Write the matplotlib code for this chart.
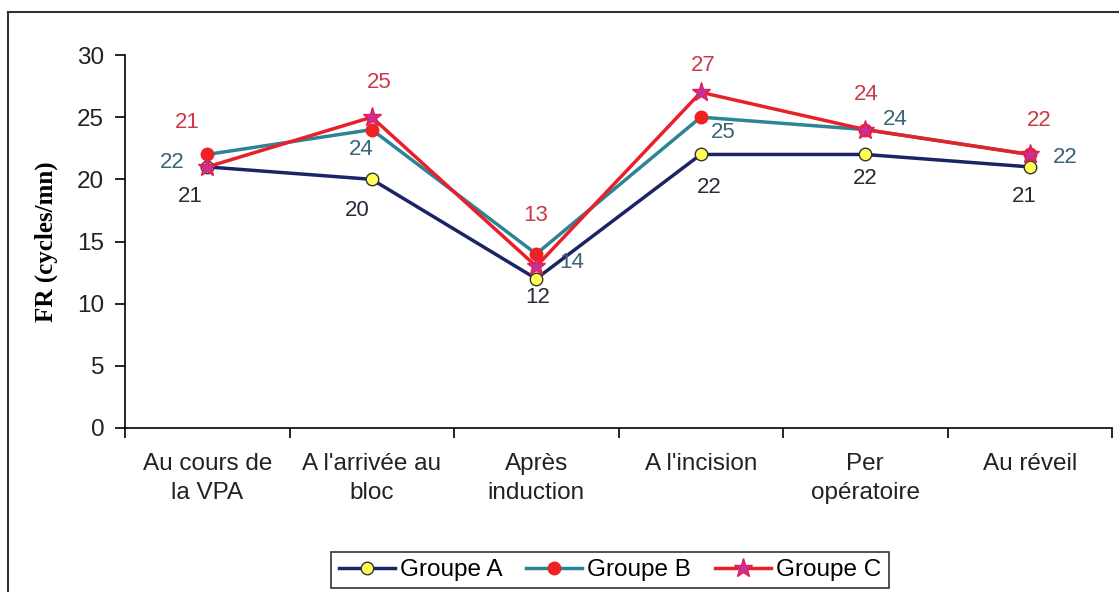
import matplotlib.pyplot as plt
from matplotlib.lines import Line2D

categories = ["Au cours de\nla VPA", "A l'arrivée au\nbloc", "Après\ninduction",
              "A l'incision", "Per\nopératoire", "Au réveil"]
groupe_a = [21, 20, 12, 22, 22, 21]
groupe_b = [22, 24, 14, 25, 24, 22]
groupe_c = [21, 25, 13, 27, 24, 22]

# label offsets in pixels (dx, dy), dy positive = up
off_a = [(-17, -30), (-14, -31), (1, -19), (8, -33), (0, -24), (-5, -30)]
off_b = [(-35, -8), (-10, -20), (35, -9), (23, -15), (30, 10), (35, -3)]
off_c = [(-20, 44), (8, 35), (-1, 51), (2, 27), (1, 35), (9, 34)]

plt.rcParams['font.family'] = ['Liberation Sans', 'DejaVu Sans']

fig = plt.figure(figsize=(11.19, 5.92), dpi=100)
ax = fig.add_axes([125 / 1119, 1 - 428 / 592, 987 / 1119, (428 - 55) / 592])

x = list(range(len(categories)))
series = [
    ("Groupe A", groupe_a, "#1c2466", "o", "#ffff55", "#333333", 9, off_a, "#2a2a3a"),
    ("Groupe B", groupe_b, "#2b8597", "o", "#ee2222", "#ee2222", 9, off_b, "#3a6478"),
    ("Groupe C", groupe_c, "#e8202a", "*", "#c8309a", "#e02050", 14, off_c, "#cc3a4a"),
]
for name, vals, lc, mk, mfc, mec, ms, offs, tc in series:
    ax.plot(x, vals, color=lc, lw=2.5, marker=mk, mfc=mfc, mec=mec, ms=ms,
            mew=1, label=name)
    for xi, v, (dx, dy) in zip(x, vals, offs):
        ax.annotate(str(v), (xi, v), xytext=(dx, dy), textcoords="offset pixels",
                    ha="center", va="center", fontsize=16, color=tc)

ax.set_xlim(-0.5, 5.5)
ax.set_ylim(0, 30)
ax.set_yticks(range(0, 31, 5))
ax.set_xticks([i + 0.5 for i in range(-1, 6)])
ax.set_xticklabels([])
ax.set_xticks(x, minor=True)
ax.set_xticklabels(categories, minor=True, fontsize=17.5, color="#222222",
                   linespacing=1.4)
ax.tick_params(axis="x", which="minor", length=0, pad=18)
ax.tick_params(axis="x", which="major", length=7, width=1.2, direction="out")
ax.tick_params(axis="y", length=7, width=1.2, labelsize=17.5, pad=8,
               labelcolor="#222222")
for s in ["top", "right"]:
    ax.spines[s].set_visible(False)
for s in ["left", "bottom"]:
    ax.spines[s].set_linewidth(1.2)

ax.set_ylabel("FR (cycles/mn)", fontsize=18, fontweight="bold",
              family=["Liberation Serif", "DejaVu Serif"], labelpad=14)

leg = fig.legend(loc="center", bbox_to_anchor=(610 / 1119, 1 - 570 / 592),
                 ncol=3, fontsize=17.5, frameon=True, fancybox=False,
                 edgecolor="black", handlelength=2.3, handletextpad=0.2,
                 columnspacing=1.0, borderpad=0.3)
leg.get_frame().set_linewidth(1.2)

# outer frame (top and left edges visible in the reference)
fig.lines.append(Line2D([8 / 1119, 1.0], [1 - 12 / 592, 1 - 12 / 592],
                        transform=fig.transFigure, color="#333333", lw=1.5))
fig.lines.append(Line2D([8 / 1119, 8 / 1119], [0.0, 1 - 12 / 592],
                        transform=fig.transFigure, color="#333333", lw=1.5))

fig.savefig("out.png", dpi=100)
